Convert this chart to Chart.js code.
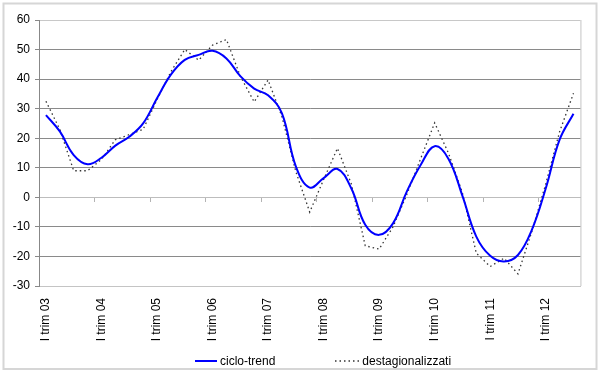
<!DOCTYPE html>
<html>
<head>
<meta charset="utf-8">
<script src="https://cdn.jsdelivr.net/npm/chart.js@4.4.1/dist/chart.umd.min.js"></script>
<style>
  body { margin: 0; background: #fff; }
  #wrap { position: relative; width: 600px; height: 373px; }
  #legend {
    position: absolute; left: 195px; top: 354px;
    display: flex; align-items: center;
    font: 12px 'Liberation Sans', Arial, sans-serif; color: #000;
  }
  #legend .item { display: flex; align-items: center; }
  #legend svg { display: block; }
</style>
</head>
<body>
<div id="wrap">
  <canvas id="chart"></canvas>
  <div id="legend">
    <div class="item">
      <svg width="22" height="4"><line x1="0" y1="2" x2="22" y2="2" stroke="#0000ff" stroke-width="2"/></svg>
      <span style="margin-left:3px;">ciclo-trend</span>
    </div>
    <div class="item" style="margin-left:60px;">
      <svg width="25" height="4"><line x1="0" y1="2" x2="25" y2="2" stroke="#333" stroke-width="1.3" stroke-dasharray="1.5,3"/></svg>
      <span style="margin-left:2px;">destagionalizzati</span>
    </div>
  </div>
</div>
<script>
// quarters 2003 Q1 .. 2012 Q3
const quarters = [
  'I trim 03', 'II trim 03', 'III trim 03', 'IV trim 03',
  'I trim 04', 'II trim 04', 'III trim 04', 'IV trim 04',
  'I trim 05', 'II trim 05', 'III trim 05', 'IV trim 05',
  'I trim 06', 'II trim 06', 'III trim 06', 'IV trim 06',
  'I trim 07', 'II trim 07', 'III trim 07', 'IV trim 07',
  'I trim 08', 'II trim 08', 'III trim 08', 'IV trim 08',
  'I trim 09', 'II trim 09', 'III trim 09', 'IV trim 09',
  'I trim 10', 'II trim 10', 'III trim 10', 'IV trim 10',
  'I trim 11', 'II trim 11', 'III trim 11', 'IV trim 11',
  'I trim 12', 'II trim 12', 'III trim 12'
];

const cicloTrend = [
  27.8, 22.3, 14.3, 11.2, 13.4, 17.5, 20.5, 25.0,
  33.5, 41.5, 46.5, 48.2, 49.6, 47.0, 41.0, 36.8,
  34.5, 28.4, 10.5, 3.3, 6.5, 9.6, 3.0, -9.3,
  -12.7, -8.8, 2.0, 11.0, 17.3, 13.0, 0.5, -13.3,
  -19.8, -21.7, -19.5, -11.0, 3.0, 19.5, 28.3
];

const destagionalizzati = [
  32.5, 23.0, 9.0, 9.0, 12.8, 19.5, 21.2, 23.0,
  33.0, 42.5, 50.0, 46.4, 51.5, 53.4, 41.0, 32.3,
  39.7, 27.3, 8.7, -5.0, 6.0, 16.6, 4.5, -16.4,
  -17.5, -10.0, 1.0, 13.2, 25.2, 14.9, 1.5, -18.9,
  -23.4, -20.6, -25.9, -11.6, 4.5, 22.2, 35.2
];

const yTicks = { min: -30, max: 60, step: 10 };

Chart.defaults.font.family = "'Liberation Sans', Arial, sans-serif";
Chart.defaults.font.size = 12;
Chart.defaults.color = '#000';

// outer frame + right edge of the plot area
const framePlugin = {
  id: 'frame',
  beforeDraw(chart) {
    const { ctx, chartArea: a } = chart;
    ctx.save();
    ctx.strokeStyle = '#d6d6d6';
    ctx.lineWidth = 2;
    ctx.strokeRect(3.5, 3.5, 593, 365.5);
    ctx.strokeStyle = '#c4c4c4';
    ctx.lineWidth = 1;
    ctx.beginPath();
    ctx.moveTo(a.right + 0.5, a.top);
    ctx.lineTo(a.right + 0.5, a.bottom);
    ctx.stroke();
    ctx.restore();
  }
};

new Chart(document.getElementById('chart'), {
  type: 'line',
  data: {
    labels: quarters,
    datasets: [
      {
        label: 'ciclo-trend',
        data: cicloTrend,
        borderColor: '#0000ff',
        borderWidth: 2,
        tension: 0.4,
        pointRadius: 0,
        fill: false
      },
      {
        label: 'destagionalizzati',
        data: destagionalizzati,
        borderColor: '#333333',
        borderWidth: 1.3,
        borderDash: [1.5, 3],
        tension: 0,
        pointRadius: 0,
        fill: false
      }
    ]
  },
  options: {
    responsive: true,
    maintainAspectRatio: false,
    animation: false,
    layout: { padding: { top: 20, right: 9, bottom: 0, left: 0 } },
    plugins: {
      legend: { display: false },
      tooltip: { enabled: false }
    },
    scales: {
      x: {
        offset: true,
        grid: { display: false, drawTicks: false, offset: true },
        border: { color: '#c4c4c4' },
        ticks: {
          autoSkip: false,
          maxRotation: 90,
          minRotation: 90,
          padding: 12,
          callback: (v, i) => (i % 4 === 0 ? quarters[i] : '')
        },
        afterFit: (s) => { s.height = 87; }
      },
      // category axis crossing at zero, tick marks only
      x2: {
        type: 'category',
        position: { y: 0 },
        offset: true,
        grid: {
          drawOnChartArea: false,
          offset: true,
          tickLength: 4,
          color: (c) => (c.index % 4 === 0 ? '#b4b4b4' : 'rgba(0,0,0,0)')
        },
        border: { color: '#bdbdbd' },
        ticks: { display: false }
      },
      y: {
        min: yTicks.min,
        max: yTicks.max,
        ticks: { stepSize: yTicks.step, padding: 5 },
        grid: {
          tickLength: 4,
          tickColor: '#888',
          color: (c) => {
            const v = c.tick && c.tick.value;
            if (v === 0) return 'rgba(0,0,0,0)';
            if (v === yTicks.max || v === yTicks.min) return '#c8c8c8';
            return '#8a8a8a';
          }
        },
        border: { color: '#888' },
        afterFit: (s) => { s.width = 39; }
      }
    }
  },
  plugins: [framePlugin]
});
</script>
</body>
</html>
